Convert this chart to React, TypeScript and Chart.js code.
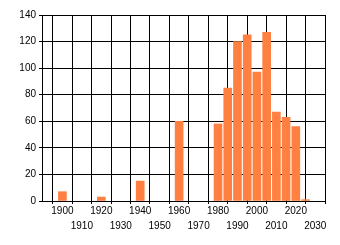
import React, { useEffect, useRef } from "react";
import { Chart, registerables } from "chart.js";

Chart.register(...registerables);

const years = [1900, 1920, 1940, 1960, 1980, 1985, 1990, 1995, 2000, 2005, 2010, 2015, 2020, 2025];
const counts = [7, 3, 15, 60, 58, 85, 120, 125, 97, 127, 67, 63, 56, 1];
const xTickValues = [1900, 1910, 1920, 1930, 1940, 1950, 1960, 1970, 1980, 1990, 2000, 2010, 2020, 2030];
const yTickValues = [0, 20, 40, 60, 80, 100, 120, 140];

export default function App() {
  const ref = useRef<HTMLCanvasElement | null>(null);

  useEffect(() => {
    if (!ref.current) return;
    const font = { family: "'Liberation Sans', Arial, sans-serif", size: 10, lineHeight: 1.5 };
    const chart = new Chart(ref.current, {
      type: "bar",
      data: {
        datasets: [
          {
            data: years.map((y, i) => ({ x: y, y: counts[i] })),
            backgroundColor: "#FF8040",
            borderWidth: 0,
            barThickness: 8,
          },
        ],
      },
      options: {
        animation: false,
        responsive: false,
        layout: { padding: { top: 15, right: 15, left: 0, bottom: 0 } },
        plugins: { legend: { display: false }, tooltip: { enabled: false } },
        scales: {
          x: {
            type: "linear",
            min: 1889.5,
            max: 2035,
            offset: false,
            afterFit: (s: any) => {
              s.height = 44;
            },
            afterBuildTicks: (s: any) => {
              s.ticks = xTickValues.map((v) => ({ value: v }));
            },
            grid: { color: "#000", lineWidth: 1, tickLength: 3, drawTicks: true },
            border: { display: true, color: "#000", width: 1 },
            ticks: {
              autoSkip: false,
              maxRotation: 0,
              minRotation: 0,
              padding: 0,
              color: "#000",
              font,
              callback: (v: any) => {
                const n = Number(v);
                return n % 20 === 0 ? [String(n), ""] : ["", String(n)];
              },
            },
          },
          y: {
            min: 0,
            max: 140,
            afterFit: (s: any) => {
              s.width = 42;
            },
            afterBuildTicks: (s: any) => {
              s.ticks = yTickValues.map((v) => ({ value: v }));
            },
            grid: { color: "#000", lineWidth: 1, tickLength: 3, drawTicks: true },
            border: { display: true, color: "#000", width: 1 },
            ticks: { padding: 3, color: "#000", font: { family: font.family, size: 10 } },
          },
        },
      },
    } as any);
    return () => chart.destroy();
  }, []);

  return (
    <div style={{ position: "absolute", left: 0, top: 0, width: 340, height: 245, background: "#fff" }}>
      <canvas ref={ref} width={340} height={245} style={{ display: "block" }} />
    </div>
  );
}
